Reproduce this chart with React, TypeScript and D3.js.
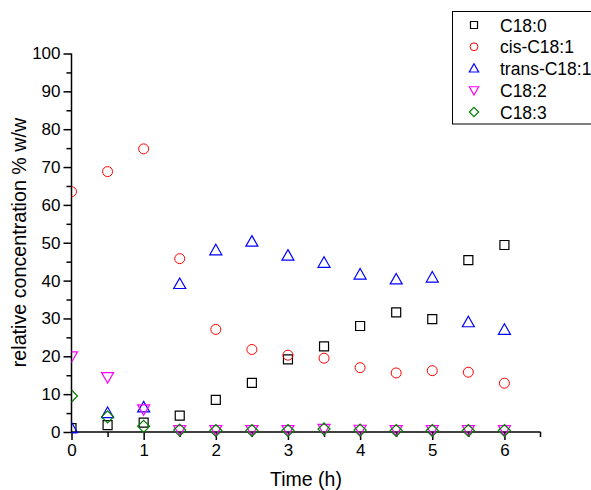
import React, { useRef, useEffect } from "react";
import * as d3 from "d3";

const WIDTH = 591;
const HEIGHT = 490;
const X0 = 71.5;
const X1 = 540.5;
const Y0 = 432;
const Y1 = 53.5;

const TIMES = [0, 0.5, 1, 1.5, 2, 2.5, 3, 3.5, 4, 4.5, 5, 5.5, 6];
const C180 = [1.0, 1.8, 2.5, 4.3, 8.5, 13, 19.2, 22.6, 28, 31.6, 29.8, 45.4, 49.4];
const CIS181 = [63.5, 68.8, 74.8, 45.8, 27.1, 21.8, 20.3, 19.5, 17, 15.6, 16.2, 15.8, 12.9];
const TRANS181 = [1.0, 5.0, 6.5, 39.1, 48, 50.3, 46.6, 44.7, 41.6, 40.3, 40.8, 29, 27];
const C182 = [20, 14.5, 6, 0.5, 0.5, 0.5, 0.5, 0.8, 0.6, 0.5, 0.5, 0.5, 0.5];
const C183 = [9.5, 4, 1.5, 0.5, 0.4, 0.4, 0.4, 0.8, 0.5, 0.4, 0.4, 0.4, 0.4];

const SERIES = [
  { name: "C18:0", values: C180, color: "#000000", shape: "square" },
  { name: "cis-C18:1", values: CIS181, color: "#ff0000", shape: "circle" },
  { name: "trans-C18:1", values: TRANS181, color: "#0000ff", shape: "up" },
  { name: "C18:2", values: C182, color: "#ff00ff", shape: "down" },
  { name: "C18:3", values: C183, color: "#008000", shape: "diamond" },
];

const FONT = "'Liberation Sans', Arial, sans-serif";

// marker outline, scaled by k (1 = plot size)
function markerPath(shape: string, k: number): string {
  const p = (v: number) => (v * k).toFixed(2);
  switch (shape) {
    case "square":
      return `M${p(-4.5)},${p(-4.5)}H${p(4.5)}V${p(4.5)}H${p(-4.5)}Z`;
    case "up":
      return `M0,${p(-6)}L${p(6)},${p(4.5)}H${p(-6)}Z`;
    case "down":
      return `M0,${p(6)}L${p(6)},${p(-4.5)}H${p(-6)}Z`;
    case "diamond":
      return `M0,${p(-6)}L${p(6)},0L0,${p(6)}L${p(-6)},0Z`;
    default:
      return "";
  }
}

function drawMarker(g: any, shape: string, color: string, x: number, y: number, k = 1) {
  if (shape === "circle") {
    g.append("circle")
      .attr("cx", x)
      .attr("cy", y)
      .attr("r", 5 * k)
      .attr("fill", "none")
      .attr("stroke", color)
      .attr("stroke-width", 1);
  } else {
    g.append("path")
      .attr("d", markerPath(shape, k))
      .attr("transform", `translate(${x},${y})`)
      .attr("fill", "none")
      .attr("stroke", color)
      .attr("stroke-width", 1.2);
  }
}

export default function App() {
  const svgRef = useRef<SVGSVGElement>(null);

  useEffect(() => {
    const svg = d3.select(svgRef.current);
    svg.selectAll("*").remove();

    const x = d3.scaleLinear().domain([0, 6.5]).range([X0, X1]);
    const y = d3.scaleLinear().domain([0, 100]).range([Y0, Y1]);

    svg
      .append("defs")
      .append("clipPath")
      .attr("id", "plotclip")
      .append("rect")
      .attr("x", X0)
      .attr("y", 0)
      .attr("width", WIDTH - X0)
      .attr("height", HEIGHT);

    // Axes
    const xAxis = svg
      .append("g")
      .attr("transform", `translate(0,${Y0})`)
      .call(
        d3
          .axisBottom(x)
          .tickValues(d3.range(0, 6.01, 0.5))
          .tickSize(8)
          .tickPadding(4)
          .tickFormat((d: any) => (Number.isInteger(d) ? String(d) : "")),
      );
    xAxis.select(".domain").attr("stroke", "#000").attr("stroke-width", 1.5)
      .attr("d", `M${X0},0H${X1}`);
    xAxis.selectAll(".tick line")
      .attr("stroke", "#000")
      .attr("stroke-width", 1.5)
      .attr("y2", (d: any) => (Number.isInteger(d) ? 8 : 5));
    xAxis.selectAll(".tick text")
      .attr("font-size", 17)
      .attr("font-family", FONT)
      .attr("fill", "#000");
    // end tick at 6.5
    xAxis.append("line").attr("x1", x(6.5)).attr("x2", x(6.5)).attr("y1", 0).attr("y2", 5)
      .attr("stroke", "#000").attr("stroke-width", 1.5);

    const yAxis = svg
      .append("g")
      .attr("transform", `translate(${X0},0)`)
      .call(
        d3
          .axisLeft(y)
          .tickValues(d3.range(0, 100.01, 5))
          .tickSize(8)
          .tickPadding(3)
          .tickFormat((d: any) => (d % 10 === 0 ? String(d) : "")),
      );
    yAxis.select(".domain").attr("stroke", "#000").attr("stroke-width", 1.5)
      .attr("d", `M0,${Y0}V${Y1}`);
    yAxis.selectAll(".tick line")
      .attr("stroke", "#000")
      .attr("stroke-width", 1.5)
      .attr("x2", (d: any) => (d % 10 === 0 ? -8 : -5));
    yAxis.selectAll(".tick text")
      .attr("font-size", 17)
      .attr("font-family", FONT)
      .attr("fill", "#000");

    // Axis titles
    svg.append("text")
      .attr("x", 306)
      .attr("y", 486)
      .attr("text-anchor", "middle")
      .attr("font-size", 19.5)
      .attr("font-family", FONT)
      .text("Time (h)");
    svg.append("text")
      .attr("transform", `translate(26,242.5) rotate(-90)`)
      .attr("text-anchor", "middle")
      .attr("font-size", 19.7)
      .attr("font-family", FONT)
      .text("relative concentration % w/w");

    // Data
    const plot = svg.append("g").attr("clip-path", "url(#plotclip)");
    SERIES.forEach((s) => {
      s.values.forEach((v, i) => {
        drawMarker(plot, s.shape, s.color, x(TIMES[i]), y(v));
      });
    });

    // Legend
    const leg = svg.append("g");
    leg.append("rect")
      .attr("x", 452.5)
      .attr("y", 11.5)
      .attr("width", 150)
      .attr("height", 112.5)
      .attr("fill", "#fff")
      .attr("stroke", "#000")
      .attr("stroke-width", 1);
    SERIES.forEach((s, i) => {
      const ly = 25 + i * 21.75;
      drawMarker(leg, s.shape, s.color, 474, ly, 0.78);
      leg.append("text")
        .attr("x", 500)
        .attr("y", ly + 6.5)
        .attr("font-size", 17.5)
        .attr("font-family", FONT)
        .text(s.name);
    });
  }, []);

  return (
    <svg
      ref={svgRef}
      width={WIDTH}
      height={HEIGHT}
      style={{ position: "absolute", left: 0, top: 0, background: "#fff" }}
    />
  );
}
